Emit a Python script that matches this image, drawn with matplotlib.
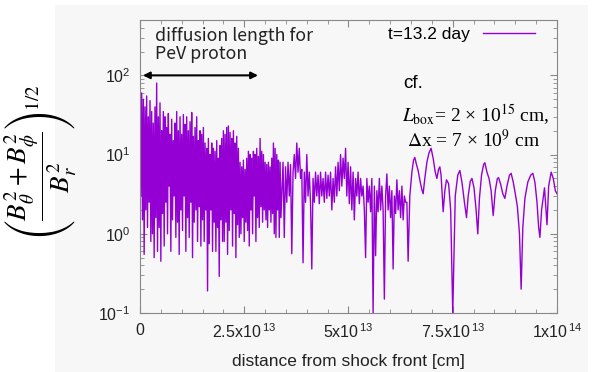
import numpy as np
import matplotlib
matplotlib.use("Agg")
import matplotlib.pyplot as plt
from matplotlib.patches import Rectangle
from matplotlib.ticker import FixedLocator, MultipleLocator, LogLocator, NullFormatter

plt.rcParams["font.family"] = ["Liberation Sans", "DejaVu Sans"]

SCALE = 1e13  # distances below are in units of 1e13 cm

# dense part next to the shock front, one value every 0.02e13 cm
near_start, near_step = 0.0, 0.02
near_ratio = [
    45, 3, 60, 1.5, 50, 0.55, 40, 2, 55, 1.2,
    30, 2.5, 48, 0.8, 35, 1.0, 25, 0.5, 40, 1.6,
    80, 0.6, 30, 1.2, 45, 0.45, 20, 1.8, 35, 0.7,
    30, 2.5, 22, 1.0, 33, 4, 18, 0.6, 28, 1.5,
    15, 3, 25, 0.9, 35, 1.4, 20, 0.55, 30, 2,
    18, 1.1, 32, 3, 24, 0.6, 30, 1.6, 20, 0.9,
    26, 2.5, 34, 0.5, 17, 1.4, 22, 2, 30, 0.8,
    15, 2.2, 20, 0.7, 18, 1.5, 22, 0.8, 14, 2,
    12, 0.19, 16, 0.75, 10, 2, 14, 0.6, 12, 1.4,
    11, 0.6, 15, 1.2, 9, 0.29, 13, 1.5, 16, 0.8,
    20, 0.8, 18, 1.4, 22, 0.55, 23, 1.1, 19, 2,
    16, 0.7, 20, 1.8, 14, 0.5, 17, 1.3, 12, 0.9,
    8, 1.0, 7, 1.6, 8.5, 0.8, 6.5, 1.4, 9, 1.1,
    11, 0.7, 10, 2, 9, 1.0, 11, 3, 10, 0.8,
    12, 1.6, 9.5, 1.2, 16, 2.2, 11, 1.4, 10, 2,
    8, 1.5, 7.5, 1.2, 8, 2, 7, 1.4, 9, 1.8,
    14, 1.0, 12, 0.9, 10, 2, 8.5, 0.9, 8, 1.6,
]

# middle part, one value every 0.03e13 cm
mid_start, mid_step = 3.4, 0.03
mid_ratio = [
    3, 8, 0.9, 7, 2.5, 8, 3, 7.5, 0.56, 6,
    10, 5, 14, 6, 12, 5, 6.5, 0.43, 6, 2.5,
    10, 3, 6, 2.4, 0.36, 5, 2.5, 6, 3, 5.5,
    2.4, 6, 3, 5, 2.5, 6, 2.8, 5.5, 3, 6,
    2, 5, 2.5, 7, 3, 8, 3.5, 10, 4, 9,
    5, 12, 3, 8, 2.4, 7, 2, 6, 1.5, 5,
    3, 6, 2.4, 5, 3, 4, 2, 0.5, 5, 2.5,
    4, 1.9, 5, 0.1, 4, 0.53, 3.5, 1.9, 5, 2,
    4, 2, 0.15, 3, 5.7, 2, 4, 1.6, 3.5, 0.36,
    3, 1.8, 4.8, 2, 3.5, 1.6, 4, 1.5, 3, 2.5,
]

# smoother far part
far_dist = [
    6.40, 6.43, 6.47, 6.52, 6.56, 6.59, 6.63, 6.67, 6.72, 6.76,
    6.79, 6.83, 6.88, 6.93, 6.98, 7.03, 7.08, 7.12, 7.16, 7.19,
    7.22, 7.27, 7.31, 7.35, 7.40, 7.45, 7.48, 7.50, 7.52, 7.56,
    7.62, 7.67, 7.72, 7.78, 7.83, 7.87, 7.92, 7.96, 8.01, 8.06,
    8.10, 8.14, 8.19, 8.24, 8.27, 8.32, 8.37, 8.42, 8.47, 8.52,
    8.57, 8.60, 8.65, 8.70, 8.75, 8.80, 8.86, 8.90, 8.95, 9.00,
    9.05, 9.10, 9.14, 9.18, 9.23, 9.30, 9.37, 9.42, 9.47, 9.52,
    9.56, 9.59, 9.63, 9.70, 9.76, 9.80, 9.86, 9.91, 9.96, 10.0,
]
far_ratio = [
    2.5, 0.45, 3, 6, 8.5, 9.2, 7.5, 6.3, 4.5, 3.6,
    3.2, 5, 8, 10.5, 12, 9, 6, 5, 6.5, 7,
    5.5, 1.9, 3.5, 4.8, 4.3, 2, 0.3, 0.1, 0.3, 3,
    5.5, 6.3, 4.5, 2.5, 1.6, 3, 4.6, 5, 3.8, 2,
    1.0, 2.8, 5.5, 7.5, 7.9, 6, 5, 3.5, 1.7, 3.5,
    5, 5.1, 4.2, 3.2, 2.8, 4, 5.5, 5.8, 4.5, 3.2,
    2.2, 1.0, 0.2, 1.2, 2.8, 4.5, 5.5, 5.8, 4.5, 2.5,
    1.2, 0.9, 2, 3.8, 1.3, 4, 6, 5, 3.5, 3.2,
]

x_ticks = [0, 2.5, 5, 7.5, 10]
x_tick_labels = ["0", r"$\mathregular{2.5x10^{\,13}}$", r"$\mathregular{5x10^{\,13}}$",
                 r"$\mathregular{7.5x10^{\,13}}$", r"$\mathregular{1x10^{\,14}}$"]
y_ticks = [0.1, 1, 10, 100]
y_tick_labels = [r"$\mathregular{10^{-1}}$", r"$\mathregular{10^{0}}$",
                 r"$\mathregular{10^{1}}$", r"$\mathregular{10^{2}}$"]
legend_label = "t=13.2 day"

near_dist = near_start + near_step * np.arange(len(near_ratio))
mid_dist = mid_start + mid_step * np.arange(len(mid_ratio))
dist = np.concatenate([near_dist, mid_dist, far_dist]) * SCALE
ratio = np.concatenate([near_ratio, mid_ratio, far_ratio])

fig = plt.figure(figsize=(5.99, 3.72), dpi=100)
fig.add_artist(Rectangle((0.0918, 0), 0.890, 0.9866, transform=fig.transFigure,
                         facecolor="#f7f7f7", edgecolor="none", zorder=-1))
ax = fig.add_axes([0.2337, 0.1586, 0.6962, 0.7876])
ax.set_facecolor("none")

ax.plot(dist, ratio, color="#9400d3", lw=1.0, label=legend_label)

ax.set_yscale("log")
ax.set_xlim(0, 1e14)
ax.set_ylim(0.1, 500)

ax.xaxis.set_major_locator(FixedLocator([v * SCALE for v in x_ticks]))
ax.set_xticklabels(x_tick_labels)
ax.xaxis.set_minor_locator(MultipleLocator(0.5 * SCALE))
ax.yaxis.set_major_locator(FixedLocator(y_ticks))
ax.set_yticklabels(y_tick_labels)
ax.yaxis.set_minor_locator(LogLocator(base=10, subs=np.arange(2, 10)))
ax.yaxis.set_minor_formatter(NullFormatter())

ax.tick_params(which="both", direction="in", top=True, right=True, color="#888888")
ax.tick_params(which="major", length=5, width=0.8, labelsize=11.5, labelcolor="#222222")
ax.tick_params(which="minor", length=3, width=0.6)
ax.tick_params(axis="x", pad=7)
ax.tick_params(axis="y", pad=7)
for s in ax.spines.values():
    s.set_color("#888888")
    s.set_linewidth(0.8)

ax.set_xlabel("distance from shock front [cm]", fontsize=12.5, color="#222222", labelpad=9)

fig.text(0.068, 0.565, r"$\left(\dfrac{B_\theta^2+B_\phi^2}{B_r^2}\right)^{1/2}$",
         rotation=90, fontsize=19.5, math_fontfamily="stix", ha="center", va="center")

leg = ax.legend(loc="upper right", bbox_to_anchor=(0.965, 1.0), borderaxespad=0,
                frameon=False, markerfirst=False, handlelength=3.0, handletextpad=0.8,
                fontsize=12.5)

# diffusion length arrow
ax.annotate("", xy=(2.83 * SCALE, 100), xytext=(0.07 * SCALE, 100),
            arrowprops=dict(arrowstyle="<|-|>", color="black", lw=1.5,
                            mutation_scale=10, shrinkA=0, shrinkB=0))
fig.text(155 / 599, 1 - 45 / 372, "diffusion length for\nPeV proton", fontsize=12.8,
         family=["Noto Sans CJK JP", "DejaVu Sans"], va="center", ha="left",
         linespacing=1.05, color="#222222")

fig.text(403 / 599, 1 - 83 / 372, "cf.", fontsize=13.5, va="center", ha="left")
fig.text(402 / 599, 1 - 122 / 372, r"$L_{\rm box}$= 2 × 10$^{15}$ cm,", fontsize=14,
         family=["Liberation Serif"], math_fontfamily="stix", va="baseline", ha="left")
fig.text(407 / 599, 1 - 147 / 372, r"$\Delta$x = 7 × 10$^{9}$ cm", fontsize=14,
         family=["Liberation Serif"], math_fontfamily="stix", va="baseline", ha="left")

fig.savefig("out.png", dpi=100)
